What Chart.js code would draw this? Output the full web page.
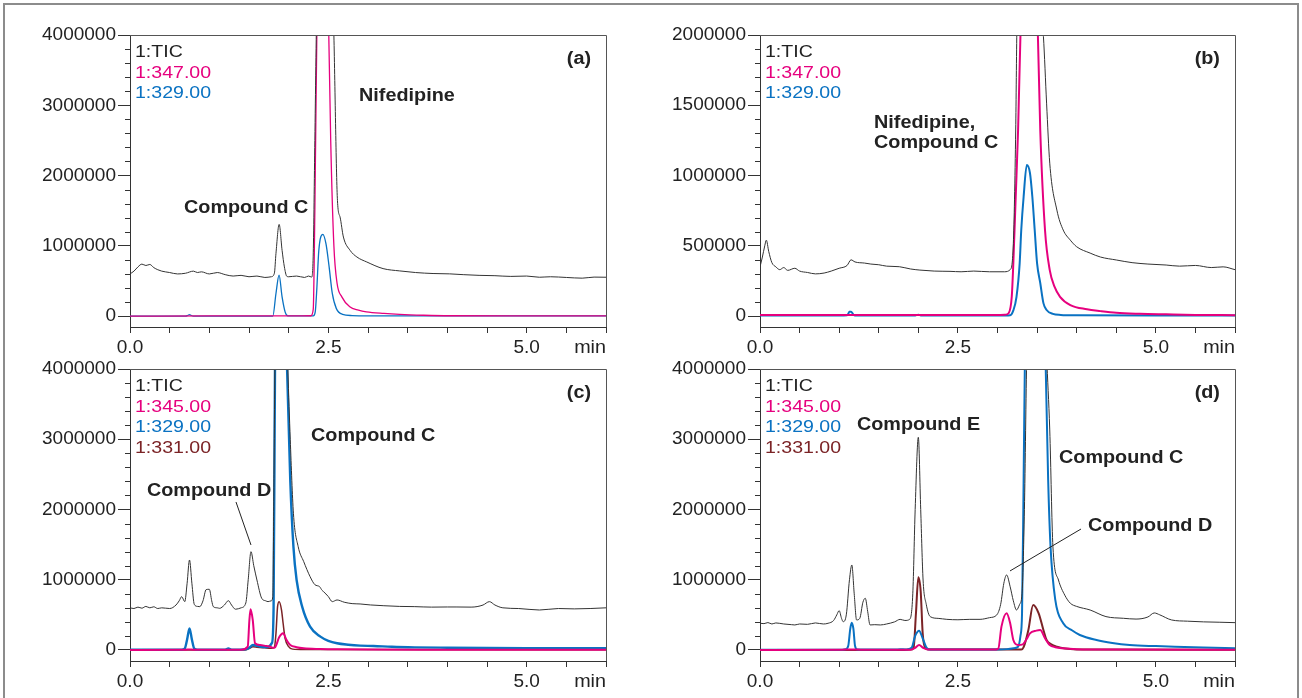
<!DOCTYPE html>
<html>
<head>
<meta charset="utf-8">
<title>LC-MS chromatograms</title>
<script src="https://cdn.jsdelivr.net/npm/chart.js@4.4.1/dist/chart.umd.min.js"></script>
<style>
  body { margin: 0; background: #fff; }
  #frame { position: absolute; left: 3px; top: 3px; width: 1292px; height: 720px; border: 2px solid #8c8c8c; }
  canvas { position: absolute; }
</style>
</head>
<body>
<div id="frame"></div>
<canvas id="chartA"></canvas>
<canvas id="chartB"></canvas>
<canvas id="chartC"></canvas>
<canvas id="chartD"></canvas>
<script>
// ---- data: [time (min), intensity (x1000 counts)] ----

// (a)
const ticA = [[0,600],[0.05,640],[0.1,700],[0.15,740],[0.2,720],[0.25,735],[0.3,690],[0.35,660],[0.4,640],[0.5,620],[0.6,600],[0.7,610],[0.8,640],[0.85,620],[0.9,630],[1.0,600],[1.1,620],[1.2,590],[1.3,570],[1.4,580],[1.5,560],[1.6,570],[1.7,550],[1.78,560],[1.82,610],[1.84,893],[1.88,1305],[1.917,936],[1.946,700],[1.976,567],[2.0,560],[2.1,570],[2.2,550],[2.25,570],[2.29,555],[2.31,900],[2.33,2500],[2.355,4500],[2.45,9000],[2.53,6000],[2.57,4000],[2.615,1645],[2.648,1409],[2.69,1125],[2.774,936],[2.86,841],[2.985,770],[3.19,676],[3.4,643],[3.6,620],[3.82,606],[4.03,601],[4.2,590],[4.4,580],[4.6,575],[4.8,565],[5.0,570],[5.16,553],[5.3,560],[5.5,550],[5.7,540],[5.85,555],[6.0,553]]
const pinkA = [[0,0],[1.0,2],[2.0,3],[2.28,5],[2.31,100],[2.33,1500],[2.36,4500],[2.43,8000],[2.49,5000],[2.53,2500],[2.57,1000],[2.61,468],[2.67,274],[2.77,132],[2.88,85],[2.98,61],[3.2,38],[3.4,24],[3.7,12],[4.03,5],[5.0,3],[6.0,3]]
const blueA = [[0,0],[0.7,0],[0.73,12],[0.75,22],[0.77,10],[0.8,0],[1.8,0],[1.84,322],[1.879,582],[1.917,274],[1.955,61],[1.99,3],[2.31,3],[2.335,60],[2.354,370],[2.38,936],[2.43,1163],[2.47,1031],[2.51,700],[2.55,322],[2.6,110],[2.68,24],[2.8,8],[3.0,4],[6.0,2]]

// (b)
const ticB = [[0,350],[0.03,420],[0.06,500],[0.08,540],[0.11,460],[0.15,380],[0.2,350],[0.25,330],[0.3,345],[0.35,325],[0.44,340],[0.5,320],[0.6,310],[0.7,300],[0.81,306],[0.9,320],[1.0,340],[1.1,360],[1.15,400],[1.2,385],[1.32,377],[1.4,370],[1.5,365],[1.6,355],[1.76,351],[1.9,335],[2.02,327],[2.2,320],[2.4,318],[2.54,315],[2.7,320],[2.9,315],[3.09,315],[3.16,330],[3.2,517],[3.23,1324],[3.245,2050],[3.32,3300],[3.45,3000],[3.53,2300],[3.58,1990],[3.62,1515],[3.66,1088],[3.75,754],[3.83,612],[3.92,540],[4.0,493],[4.17,448],[4.3,420],[4.5,399],[4.7,380],[4.9,370],[5.13,363],[5.3,355],[5.5,360],[5.7,345],[5.85,350],[6.0,330]]
const pinkB = [[0,8],[1.0,8],[2.0,8],[3.0,8],[3.1,10],[3.14,20],[3.18,137],[3.2,377],[3.23,849],[3.26,1324],[3.29,2000],[3.35,3000],[3.45,2800],[3.51,2000],[3.54,1324],[3.6,612],[3.66,327],[3.72,209],[3.79,137],[3.92,78],[4.13,48],[4.3,35],[4.5,23],[4.8,16],[5.13,12],[5.5,8],[6.0,6]]
const blueB = [[0,3],[1.0,3],[1.1,5],[1.13,30],[1.15,31],[1.18,10],[1.2,3],[1.95,3],[2.0,10],[2.04,3],[3.1,3],[3.16,5],[3.2,40],[3.24,137],[3.28,375],[3.3,612],[3.33,849],[3.37,1075],[3.41,1018],[3.44,849],[3.47,612],[3.5,375],[3.54,235],[3.58,92],[3.62,43],[3.7,15],[3.8,8],[4.0,5],[5.0,3],[6.0,3]]

// (c)
const ticC = [[0,600],[0.05,590],[0.1,610],[0.15,595],[0.2,620],[0.25,600],[0.3,615],[0.35,590],[0.4,600],[0.5,590],[0.58,640],[0.62,700],[0.652,759],[0.69,688],[0.72,950],[0.75,1281],[0.78,950],[0.81,650],[0.85,620],[0.88,617],[0.92,700],[0.96,860],[1.0,864],[1.03,700],[1.05,617],[1.1,600],[1.13,593],[1.19,640],[1.24,702],[1.28,640],[1.33,580],[1.4,600],[1.46,669],[1.49,1000],[1.525,1399],[1.56,1200],[1.6,996],[1.66,736],[1.71,700],[1.74,688],[1.78,700],[1.8,760],[1.815,2500],[1.83,4500],[1.9,8000],[1.99,4000],[2.02,3000],[2.06,1946],[2.12,1471],[2.19,1257],[2.27,1044],[2.33,930],[2.39,901],[2.42,850],[2.44,830],[2.5,760],[2.55,688],[2.61,712],[2.7,680],[2.8,660],[2.9,655],[3.03,641],[3.2,630],[3.4,620],[3.59,617],[3.8,610],[4.0,612],[4.11,612],[4.3,610],[4.45,640],[4.53,688],[4.6,640],[4.7,600],[4.9,590],[5.16,569],[5.4,590],[5.6,585],[5.8,590],[6.0,600]]
const pinkC = [[0,0],[0.7,3],[0.75,8],[0.8,3],[1.4,3],[1.484,47],[1.505,427],[1.52,579],[1.547,427],[1.576,95],[1.64,71],[1.72,55],[1.77,47],[1.8,30],[1.83,40],[1.88,180],[1.93,237],[1.97,150],[2.02,71],[2.1,40],[2.19,24],[2.4,14],[2.61,9],[3.0,5],[4.0,3],[6.0,2]]
const blueC = [[0,5],[0.65,5],[0.69,20],[0.72,150],[0.75,308],[0.78,150],[0.81,20],[0.85,5],[1.2,5],[1.24,20],[1.28,5],[1.45,8],[1.5,30],[1.55,71],[1.6,60],[1.65,45],[1.73,40],[1.79,100],[1.81,600],[1.83,4500],[1.9,8500],[1.98,4000],[2.02,2420],[2.06,1471],[2.1,996],[2.17,617],[2.27,332],[2.4,190],[2.5,130],[2.61,95],[2.75,75],[2.9,62],[3.07,57],[3.3,45],[3.59,37],[4.0,32],[4.5,28],[5.0,26],[5.5,25],[6.0,24]]
const brownC = [[0,0],[1.45,0],[1.5,20],[1.55,45],[1.6,40],[1.7,30],[1.78,25],[1.82,40],[1.84,237],[1.86,617],[1.88,688],[1.91,569],[1.93,380],[1.955,166],[2.0,47],[2.05,12],[2.2,5],[6.0,2]]

// (d)
const ticD = [[0,380],[0.05,375],[0.1,390],[0.15,370],[0.2,385],[0.3,370],[0.4,360],[0.44,356],[0.5,370],[0.6,365],[0.7,385],[0.8,370],[0.86,380],[0.93,420],[0.97,500],[1.0,560],[1.03,450],[1.05,403],[1.09,500],[1.13,1000],[1.16,1210],[1.19,800],[1.22,427],[1.26,450],[1.3,680],[1.33,736],[1.36,550],[1.39,356],[1.45,360],[1.52,356],[1.6,370],[1.7,400],[1.77,436],[1.83,420],[1.89,436],[1.93,800],[1.96,2000],[2.0,3028],[2.03,2000],[2.06,996],[2.1,650],[2.15,475],[2.25,450],[2.36,436],[2.5,430],[2.65,436],[2.78,436],[2.9,460],[2.99,498],[3.04,650],[3.08,950],[3.115,1068],[3.16,900],[3.2,700],[3.24,569],[3.28,650],[3.31,806],[3.34,2000],[3.37,4200],[3.5,8000],[3.62,4200],[3.66,3132],[3.7,1471],[3.77,996],[3.85,780],[3.92,665],[4.0,620],[4.17,569],[4.37,475],[4.59,451],[4.75,440],[4.9,470],[4.98,527],[5.05,500],[5.2,427],[5.4,410],[5.6,400],[5.8,395],[6.0,389]]
const pinkD = [[0,0],[1.0,2],[1.16,8],[1.3,2],[1.9,3],[1.96,30],[2.01,71],[2.06,30],[2.12,5],[2.95,5],[3.01,20],[3.05,332],[3.115,522],[3.16,380],[3.2,142],[3.26,71],[3.32,80],[3.37,160],[3.41,237],[3.49,275],[3.54,285],[3.6,166],[3.66,71],[3.73,40],[3.83,24],[4.0,12],[4.5,6],[6.0,3]]
const blueD = [[0,2],[1.0,2],[1.08,10],[1.115,60],[1.14,300],[1.158,389],[1.18,300],[1.2,60],[1.23,5],[1.7,5],[1.77,12],[1.85,8],[1.915,30],[1.96,200],[2.01,275],[2.05,180],[2.105,30],[2.15,5],[3.0,5],[3.12,12],[3.2,25],[3.26,47],[3.29,200],[3.31,522],[3.33,2420],[3.35,4500],[3.5,9000],[3.6,4500],[3.64,2420],[3.67,1471],[3.73,712],[3.83,380],[3.94,280],[4.04,213],[4.25,142],[4.45,100],[4.67,71],[5.0,55],[5.24,47],[5.6,35],[6.0,24]]
const brownD = [[0,0],[1.8,0],[1.9,5],[1.94,30],[1.97,522],[2.0,1035],[2.03,831],[2.055,237],[2.09,24],[2.15,5],[3.3,5],[3.33,40],[3.39,285],[3.45,641],[3.52,522],[3.58,285],[3.62,142],[3.68,80],[3.75,47],[3.85,20],[4.0,8],[6.0,2]]

// ---- axes ----
const xTicks = [0, 0.5, 1, 1.5, 2, 2.5, 3, 3.5, 4, 4.5, 5, 5.5, 6]
const xTickLabels = ['0.0', '', '', '', '', '2.5', '', '', '', '', '5.0', '', '']
const yTicks4M = [0, 1000, 2000, 3000, 4000]
const yTickLabels4M = ['0', '1000000', '2000000', '3000000', '4000000']
const yTicks2M = [0, 500, 1000, 1500, 2000]
const yTickLabels2M = ['0', '500000', '1000000', '1500000', '2000000']

const COLORS = { tic: '#333333', pink: '#e6007e', blue: '#0a72c2', brown: '#7b2326' }

function toXY(pairs) {
    return pairs.map(p => ({ x: p[0], y: p[1] }))
}

function stretchText(ctx, text, x, y, align, sx) {
    ctx.save()
    ctx.translate(x, y)
    ctx.scale(sx, 1)
    ctx.textAlign = align
    ctx.fillText(text, 0, 0)
    ctx.restore()
}

// frame, minor ticks, legend, 'min' and peak labels
const panelDecor = {
    id: 'panelDecor',
    afterDraw(chart, args, opts) {
        const { ctx, chartArea: a } = chart
        const x = chart.scales.x, y = chart.scales.y
        ctx.save()
        ctx.lineWidth = 1
        ctx.strokeStyle = '#555'
        ctx.beginPath()
        ctx.moveTo(a.left, Math.round(a.top) + 0.5)
        ctx.lineTo(Math.round(a.right) + 0.5, Math.round(a.top) + 0.5)
        ctx.lineTo(Math.round(a.right) + 0.5, a.bottom)
        ctx.stroke()

        ctx.strokeStyle = '#333'
        for (let v = opts.minorStep; v < y.max; v += opts.minorStep) {
            if (v % opts.majorStep === 0) continue
            const py = Math.round(y.getPixelForValue(v)) + 0.5
            ctx.beginPath()
            ctx.moveTo(a.left - 5, py)
            ctx.lineTo(a.left, py)
            ctx.stroke()
        }

        ctx.textBaseline = 'alphabetic'
        ctx.font = '17px Arial, "Liberation Sans", sans-serif'
        opts.legend.forEach((item, i) => {
            ctx.fillStyle = item.color
            stretchText(ctx, item.text, a.left + 5, a.top + 22 + i * 20.5, 'left', 1.15)
        })

        ctx.fillStyle = '#222'
        ctx.font = '19px Arial, "Liberation Sans", sans-serif'
        stretchText(ctx, 'min', a.right, a.bottom + 26, 'right', 1.04)

        ctx.font = 'bold 18px Arial, "Liberation Sans", sans-serif'
        opts.notes.forEach(n => {
            stretchText(ctx, n.text, x.getPixelForValue(n.t), y.getPixelForValue(n.v), n.align || 'left', 1.1)
        })

        ctx.strokeStyle = '#222'
        opts.leaders.forEach(l => {
            ctx.beginPath()
            ctx.moveTo(x.getPixelForValue(l[0]), y.getPixelForValue(l[1]))
            ctx.lineTo(x.getPixelForValue(l[2]), y.getPixelForValue(l[3]))
            ctx.stroke()
        })
        ctx.restore()
    }
}

function makePanel(id, area, cfg) {
    const canvas = document.getElementById(id)
    const w = area.w + 170, h = area.h + 68
    canvas.width = w
    canvas.height = h
    canvas.style.left = (area.l - 130) + 'px'
    canvas.style.top = (area.t - 35) + 'px'

    const datasets = cfg.series.map(s => ({
        data: toXY(s.data),
        borderColor: s.color,
        borderWidth: s.width,
        pointRadius: 0,
        fill: false,
        tension: 0,
        cubicInterpolationMode: 'monotone'
    }))

    new Chart(canvas, {
        type: 'line',
        data: { datasets: datasets },
        options: {
            responsive: false,
            animation: false,
            devicePixelRatio: 1,
            layout: { padding: { left: 10, top: 35, right: 40, bottom: 3 } },
            plugins: {
                legend: { display: false },
                tooltip: { enabled: false },
                panelDecor: cfg.decor
            },
            scales: {
                x: {
                    type: 'linear',
                    min: 0,
                    max: 6,
                    afterBuildTicks: s => { s.ticks = xTicks.map(v => ({ value: v })) },
                    afterFit: s => { s.height = 30 },
                    ticks: {
                        autoSkip: false,
                        maxRotation: 0,
                        padding: 3,
                        color: '#222',
                        font: { family: 'Arial, "Liberation Sans", sans-serif', size: 19 },
                        callback: (v, i) => xTickLabels[i]
                    },
                    grid: { drawOnChartArea: false, tickLength: 6, color: '#333' },
                    border: { color: '#333', width: 1 }
                },
                y: {
                    type: 'linear',
                    min: cfg.yMin,
                    max: cfg.yMax,
                    afterBuildTicks: s => { s.ticks = cfg.yTicks.map(v => ({ value: v })) },
                    afterFit: s => { s.width = 120 },
                    ticks: {
                        padding: 2,
                        color: '#222',
                        font: { family: 'Arial, "Liberation Sans", sans-serif', size: 19 },
                        callback: (v, i) => cfg.yLabels[i]
                    },
                    grid: { drawOnChartArea: false, tickLength: 12, color: '#333' },
                    border: { color: '#333', width: 1 }
                }
            }
        },
        plugins: [panelDecor]
    })
}

makePanel('chartA', { l: 130, t: 35, w: 476, h: 292 }, {
    yMin: -155, yMax: 4000, yTicks: yTicks4M, yLabels: yTickLabels4M,
    series: [
        { data: ticA, color: COLORS.tic, width: 1 },
        { data: pinkA, color: COLORS.pink, width: 1.3 },
        { data: blueA, color: COLORS.blue, width: 1.3 }
    ],
    decor: {
        minorStep: 200, majorStep: 1000,
        legend: [{ text: '1:TIC', color: '#222' }, { text: '1:347.00', color: COLORS.pink }, { text: '1:329.00', color: COLORS.blue }],
        notes: [
            { text: 'Nifedipine', t: 2.887, v: 3060 },
            { text: 'Compound C', t: 0.681, v: 1466 },
            { text: '(a)', t: 5.811, v: 3587, align: 'right' }
        ],
        leaders: []
    }
})

makePanel('chartB', { l: 760, t: 35, w: 475, h: 292 }, {
    yMin: -78, yMax: 2000, yTicks: yTicks2M, yLabels: yTickLabels2M,
    series: [
        { data: ticB, color: COLORS.tic, width: 1 },
        { data: pinkB, color: COLORS.pink, width: 2 },
        { data: blueB, color: COLORS.blue, width: 2 }
    ],
    decor: {
        minorStep: 100, majorStep: 500,
        legend: [{ text: '1:TIC', color: '#222' }, { text: '1:347.00', color: COLORS.pink }, { text: '1:329.00', color: COLORS.blue }],
        notes: [
            { text: 'Nifedipine,', t: 1.44, v: 1336 },
            { text: 'Compound C', t: 1.44, v: 1194 },
            { text: '(b)', t: 5.81, v: 1794, align: 'right' }
        ],
        leaders: []
    }
})

makePanel('chartC', { l: 130, t: 369, w: 476, h: 292 }, {
    yMin: -157, yMax: 4000, yTicks: yTicks4M, yLabels: yTickLabels4M,
    series: [
        { data: ticC, color: COLORS.tic, width: 1 },
        { data: pinkC, color: COLORS.pink, width: 2 },
        { data: blueC, color: COLORS.blue, width: 2.4 },
        { data: brownC, color: COLORS.brown, width: 1.5 }
    ],
    decor: {
        minorStep: 200, majorStep: 1000,
        legend: [{ text: '1:TIC', color: '#222' }, { text: '1:345.00', color: COLORS.pink }, { text: '1:329.00', color: COLORS.blue }, { text: '1:331.00', color: COLORS.brown }],
        notes: [
            { text: '(c)', t: 5.811, v: 3587, align: 'right' },
            { text: 'Compound C', t: 2.282, v: 2979 },
            { text: 'Compound D', t: 0.214, v: 2196 }
        ],
        leaders: [[1.336, 2107, 1.525, 1495]]
    }
})

makePanel('chartD', { l: 760, t: 369, w: 475, h: 292 }, {
    yMin: -157, yMax: 4000, yTicks: yTicks4M, yLabels: yTickLabels4M,
    series: [
        { data: ticD, color: COLORS.tic, width: 1 },
        { data: pinkD, color: COLORS.pink, width: 2 },
        { data: blueD, color: COLORS.blue, width: 2 },
        { data: brownD, color: COLORS.brown, width: 2 }
    ],
    decor: {
        minorStep: 200, majorStep: 1000,
        legend: [{ text: '1:TIC', color: '#222' }, { text: '1:345.00', color: COLORS.pink }, { text: '1:329.00', color: COLORS.blue }, { text: '1:331.00', color: COLORS.brown }],
        notes: [
            { text: '(d)', t: 5.81, v: 3587, align: 'right' },
            { text: 'Compound E', t: 1.225, v: 3132 },
            { text: 'Compound C', t: 3.777, v: 2658 },
            { text: 'Compound D', t: 4.143, v: 1698 }
        ],
        leaders: [[4.055, 1722, 3.158, 1125]]
    }
})
</script>
</body>
</html>
